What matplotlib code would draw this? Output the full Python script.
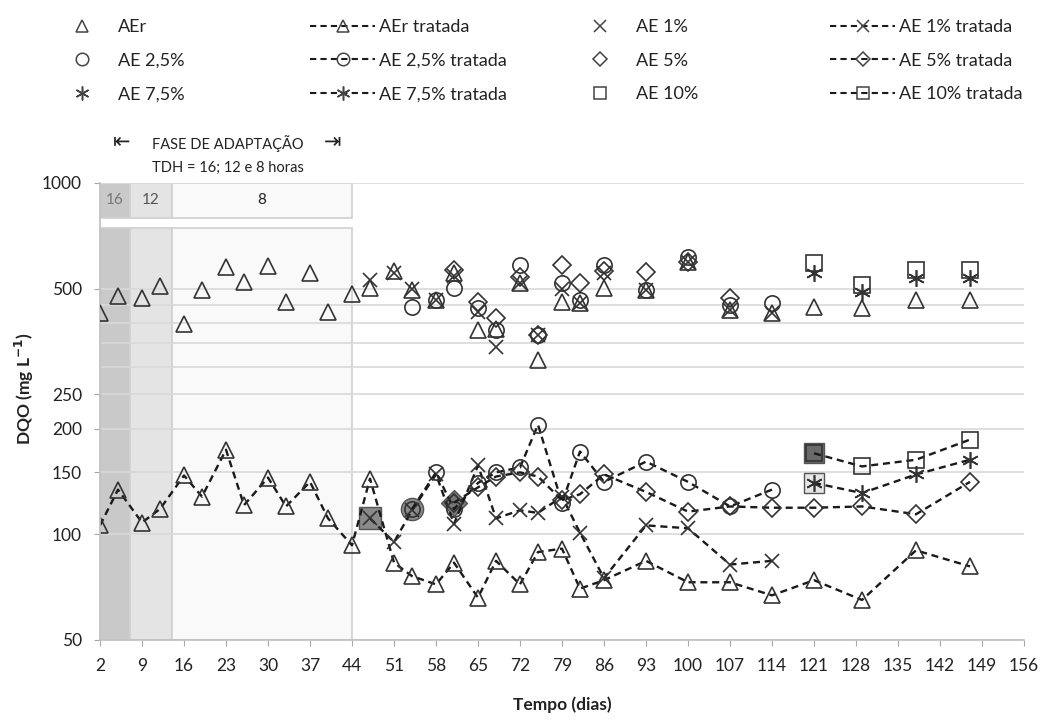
import numpy as np
import matplotlib
matplotlib.use('Agg')
import matplotlib.pyplot as plt
from matplotlib.lines import Line2D
from matplotlib.patches import Rectangle
from matplotlib.ticker import NullFormatter

plt.rcParams['font.family'] = ['Lato', 'DejaVu Sans']

# ---------------------------------------------------------------------------
## Data (DQO, mg/L)
dias_aer = [2, 5, 9, 12, 16, 19, 23, 26, 30, 33, 37, 40, 44, 47, 51, 54, 58, 61, 65,
            68, 72, 75, 79, 82, 86, 93, 100, 107, 114, 121, 129, 138, 147]
aer = [427, 477, 470, 509, 397, 496, 577, 523, 580, 458, 554, 430, 483, 503, 560, 496,
       464, 555, 382, 385, 519, 313, 458, 455, 503, 496, 595, 435, 426, 444, 441, 464, 464]
aer_tratada = [106, 134, 108, 118, 147, 128, 174, 121, 145, 120, 141, 111, 93, 144, 83,
               76, 72, 83, 66, 84, 72, 89, 91, 70, 74, 84, 73, 73, 67, 74, 65, 90, 81]

dias_ae1 = [47, 51, 54, 58, 61, 65, 68, 72, 75, 79, 82, 86, 93, 100, 107, 114]
ae1 = [530, 555, 500, 464, 545, 430, 341, 519, 369, 500, 455, 555, 496, 595, 435, 426]
ae1_tratada = [111, 95, 117, 148, 107, 157, 111, 117, 115, 128, 101, 75, 106, 104, 82, 84]

dias_ae25 = [54, 58, 61, 65, 68, 72, 75, 79, 82, 86, 93, 100, 107, 114]
ae25 = [444, 464, 503, 440, 382, 584, 369, 519, 464, 584, 496, 616, 450, 455]
ae25_tratada = [118, 150, 118, 140, 150, 155, 205, 123, 172, 141, 161, 141, 120, 134]

dias_ae5 = [61, 65, 68, 72, 75, 79, 82, 86, 93, 100, 107, 114, 121, 129, 138, 147]
ae5 = [565, 458, 413, 540, 369, 584, 519, 560, 558, 595, 470,
       np.nan, np.nan, np.nan, np.nan, np.nan]
ae5_tratada = [123, 136, 146, 150, 146, 125, 130, 148, 132, 116, 120, 119, 119, 120, 114, 141]

dias_ae75 = [121, 129, 138, 147]
ae75 = [555, 490, 537, 537]
ae75_tratada = [140, 131, 148, 163]

dias_ae10 = [121, 129, 138, 147]
ae10 = [592, 513, 565, 565]
ae10_tratada = [170, 156, 163, 186]

# adaptation phase (TDH 16, 12 and 8 h)
fases = [(2, 7), (7, 14), (14, 44)]
fases_tdh = ['16', '12', '8']

yticks = [50, 100, 150, 200, 250, 500, 1000]
ygrid_extra = [300, 350, 400, 450]
xticks = list(range(2, 157, 7))

# ---------------------------------------------------------------------------
W, H = 1048, 720
fig = plt.figure(figsize=(W / 100, H / 100), dpi=100)
ax = fig.add_axes([100 / W, 80 / H, 924 / W, 457 / H])
ax.set_yscale('log')
ax.set_xlim(2, 156)
ax.set_ylim(50, 1000)

fase_cores = ['#c9c9c9', '#e4e4e4', '#f9f9f9']
texto_cores = ['#777777', '#555555', '#222222']
for (x0, x1), cor, tdh, tcor in zip(fases, fase_cores, fases_tdh, texto_cores):
    ax.add_patch(Rectangle((x0, 50), x1 - x0, 745 - 50, facecolor=cor,
                           edgecolor='#d0d0d0', lw=1.2, zorder=0.3))
    ax.add_patch(Rectangle((x0, 795), x1 - x0, 1000 - 795, facecolor=cor,
                           edgecolor='#d0d0d0', lw=1.2, zorder=0.3))
    ax.text((x0 + x1) / 2, np.sqrt(795 * 1000), tdh, ha='center', va='center',
            fontsize=11, color=tcor, zorder=0.4)

ax.set_yticks(yticks)
ax.set_yticklabels([str(v) for v in yticks])
ax.set_yticks(ygrid_extra, minor=True)
ax.yaxis.set_minor_formatter(NullFormatter())
ax.set_xticks(xticks)
ax.set_xticklabels([str(v) for v in xticks])
ax.set_axisbelow(True)
ax.grid(axis='y', which='both', color='#d9d9d9', lw=1.2)
ax.tick_params(axis='both', which='major', direction='out', length=4, color='#a6a6a6',
               labelsize=12.5, labelcolor='#222222', pad=9)
ax.tick_params(axis='y', which='minor', length=0)
for s in ['top', 'right']:
    ax.spines[s].set_visible(False)
for s in ['left', 'bottom']:
    ax.spines[s].set_color('#bfbfbf')
    ax.spines[s].set_linewidth(1.2)

mec = '#333333'
tracado = (0, (3, 2))
series = [
    (dias_aer, aer, aer_tratada, '^', 11, None),
    (dias_ae1, ae1, ae1_tratada, 'x', 10, ('s', 16, '#8a8a8a')),
    (dias_ae25, ae25, ae25_tratada, 'o', 11, ('o', 16, '#8a8a8a')),
    (dias_ae5, ae5, ae5_tratada, 'D', 9, ('D', 13, '#777777')),
    (dias_ae75, ae75, ae75_tratada, (6, 2, 0), 12, ('s', 15, '#e6e6e6')),
    (dias_ae10, ae10, ae10_tratada, 's', 11, ('s', 14, '#6a6a6a')),
]
for dias, bruto, tratado, mk, ms, destaque in series:
    ax.plot(dias, bruto, ls='none', marker=mk, ms=ms, mfc='none', mec=mec, mew=1.2, zorder=3)
    if destaque is not None:
        dm, dms, dcor = destaque
        ax.plot(dias[0], tratado[0], ls='none', marker=dm, ms=dms, mfc=dcor,
                mec='#555555', mew=1.0, zorder=1.9)
    ax.plot(dias, tratado, ls=tracado, color='#1a1a1a', lw=1.7, marker=mk, ms=ms,
            mfc='none', mec=mec, mew=1.2, zorder=2)

# legend: four columns
def h_bruto(mk, ms):
    return Line2D([], [], ls='none', marker=mk, ms=ms, mfc='none', mec='#444444', mew=1.1)

def h_trat(mk, ms):
    return Line2D([], [], ls=tracado, color='#1a1a1a', lw=1.5, marker=mk, ms=ms,
                  mfc='none', mec='#444444', mew=1.1)

colunas = [
    (49, h_bruto, [('^', 9), ('o', 9), ((6, 2, 0), 10)], ['AEr', 'AE 2,5%', 'AE 7,5%']),
    (310, h_trat, [('^', 9), ('o', 9), ((6, 2, 0), 10)],
     ['AEr tratada', 'AE 2,5% tratada', 'AE 7,5% tratada']),
    (567, h_bruto, [('x', 9), ('D', 7), ('s', 9)], ['AE 1%', 'AE 5%', 'AE 10%']),
    (830, h_trat, [('x', 9), ('D', 7), ('s', 9)],
     ['AE 1% tratada', 'AE 5% tratada', 'AE 10% tratada']),
]
for x0, fh, mks, labels in colunas:
    fig.legend([fh(m, s) for m, s in mks], labels, loc='upper left',
               bbox_to_anchor=(x0 / W, 1 - 19 / H), frameon=False, fontsize=13,
               handlelength=3.6, handletextpad=0.2, labelspacing=0.98,
               borderpad=0, borderaxespad=0, labelcolor='#222222')

fig.text(122 / W, 1 - 142 / H, '\u21e4', ha='center', va='center', fontsize=15,
         family='DejaVu Sans', color='#222222')
fig.text(333 / W, 1 - 142 / H, '\u21e5', ha='center', va='center', fontsize=15,
         family='DejaVu Sans', color='#222222')
fig.text(228 / W, 1 - 144 / H, 'FASE DE ADAPTAÇÃO', ha='center', va='center',
         fontsize=10.5, color='#222222')
fig.text(228 / W, 1 - 168 / H, 'TDH = 16; 12 e 8 horas', ha='center', va='center',
         fontsize=10.5, color='#222222')

fig.text(24 / W, 1 - 389 / H, r'DQO (mg L$^{\mathbf{-1}}$)', rotation=90, ha='center',
         va='center', fontsize=12.5, fontweight='bold', color='#222222')
fig.text(562 / W, 1 - 705 / H, 'Tempo (dias)', ha='center', va='center',
         fontsize=12.5, fontweight='bold', color='#222222')

fig.savefig('out.png', dpi=100)
